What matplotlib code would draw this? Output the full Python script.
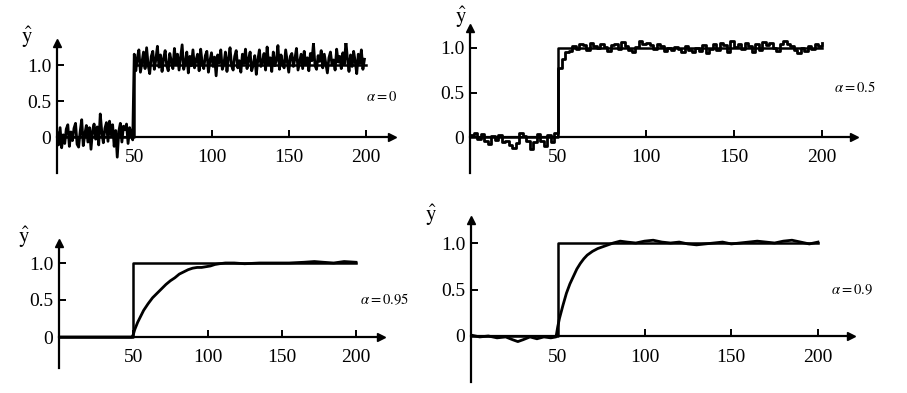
import numpy as np
import matplotlib.pyplot as plt

plt.rcParams['font.family'] = ['Liberation Serif', 'DejaVu Serif']
plt.rcParams['mathtext.fontset'] = 'stix'

# step input (true signal)
step_t = [0, 50, 50, 200]
step_y = [0, 0, 1, 1]

# alpha = 0 : raw noisy measurements, one per sample
raw_pre = [0.06, -0.11, 0.13, -0.15, 0.03, -0.09, 0.11, 0.17, -0.13, 0.07,
           -0.05, 0.12, 0.19, -0.10, -0.14, 0.08, 0.24, -0.12, 0.04, 0.16,
           -0.07, 0.13, -0.17, 0.09, 0.18, -0.03, 0.14, -0.11, 0.32, 0.07,
           -0.08, 0.12, 0.20, -0.06, 0.22, 0.03, 0.17, -0.13, 0.09, -0.28,
           0.08, 0.19, -0.07, 0.15, 0.10, 0.18, -0.09, 0.13, 0.05, -0.04]
raw_post = [1.15, 0.92, 1.10, 1.21, 0.90, 1.04, 1.18, 0.95, 1.24, 1.00,
            0.88, 1.12, 1.19, 0.94, 1.08, 1.26, 0.97, 1.14, 0.91, 1.09,
            1.20, 0.99, 0.92, 1.16, 1.05, 0.95, 1.23, 1.01, 1.15, 0.93,
            1.10, 1.28, 0.94, 1.03, 1.18, 0.89, 1.12, 0.99, 1.21, 0.96,
            1.07, 1.15, 0.92, 1.22, 1.02, 0.95, 1.13, 1.19, 0.90, 1.06,
            1.17, 0.98, 1.11, 0.85, 1.14, 1.03, 1.21, 0.94, 1.01, 1.18,
            0.91, 1.09, 1.24, 0.99, 0.93, 1.12, 1.20, 0.96, 1.06, 0.90,
            1.15, 1.02, 1.22, 0.95, 1.08, 1.18, 0.92, 1.00, 1.13, 0.87,
            1.07, 1.21, 0.98, 1.04, 1.16, 0.93, 1.25, 1.01, 1.10, 0.91,
            1.18, 0.99, 1.07, 1.27, 0.94, 1.14, 1.02, 0.96, 1.21, 1.05,
            0.90, 1.12, 1.16, 0.98, 1.09, 1.23, 0.93, 1.04, 1.15, 0.95,
            1.19, 1.01, 1.10, 0.92, 1.16, 1.06, 1.30, 0.99, 0.94, 1.13,
            1.05, 1.20, 0.96, 1.15, 1.02, 0.89, 1.10, 1.18, 1.00, 1.07,
            0.93, 1.22, 1.04, 1.12, 0.95, 1.17, 1.01, 1.33, 1.08, 0.91,
            1.14, 0.98, 1.19, 1.05, 0.88, 1.15, 1.02, 1.21, 0.94, 1.08]

# alpha = 0.5 : estimate every 2 samples
a05_pre = [0.02, 0.04, -0.02, 0.03, -0.05, -0.08, 0.01, -0.03, 0.02, -0.06,
           -0.04, -0.09, -0.12, -0.07, 0.04, 0.01, -0.05, -0.14, -0.06, 0.03,
           -0.04, -0.10, 0.02, -0.06, 0.05]
a05_post = [0.77, 0.88, 0.95, 0.97, 1.02, 0.99, 1.04, 1.03, 0.98, 1.06,
            1.02, 1.00, 1.04, 1.01, 0.97, 1.03, 1.05, 0.99, 1.07, 1.02,
            0.98, 0.95, 1.01, 1.08, 1.05, 1.06, 1.03, 0.99, 1.04, 1.02,
            0.97, 1.00, 0.98, 1.01, 0.99, 0.96, 1.02, 0.98, 0.95, 1.00,
            0.97, 1.03, 0.94, 0.99, 1.04, 0.98, 1.06, 1.03, 0.96, 1.08,
            1.01, 1.05, 0.99, 1.06, 1.02, 0.96, 1.04, 0.98, 1.07, 1.03,
            1.06, 1.00, 0.97, 1.04, 1.08, 1.05, 1.02, 0.98, 0.94, 1.00,
            0.97, 1.02, 0.99, 1.04, 1.02, 1.06]

# alpha = 0.95
a95_t = [0, 49, 50, 51, 53, 55, 57, 60, 63, 66, 69, 72, 75, 78, 81, 84, 87, 90,
         93, 96, 99, 102, 105, 108, 112, 118, 125, 135, 145, 155, 165, 172,
         178, 185, 192, 200]
a95_y = [0, 0, 0.03, 0.10, 0.20, 0.28, 0.36, 0.45, 0.53, 0.59, 0.65, 0.71,
         0.76, 0.80, 0.85, 0.88, 0.91, 0.93, 0.94, 0.94, 0.95, 0.96, 0.98,
         0.99, 1.00, 1.00, 0.99, 1.00, 1.00, 1.00, 1.01, 1.02, 1.01, 1.00,
         1.02, 1.01]

# alpha = 0.9
a90_t = [0, 5, 10, 15, 20, 24, 27, 30, 34, 38, 42, 46, 49, 50, 51, 53, 55, 57,
         59, 61, 63, 65, 67, 70, 73, 76, 79, 82, 86, 90, 95, 100, 105, 110,
         115, 120, 125, 130, 135, 140, 145, 150, 155, 160, 165, 170, 175, 180,
         185, 190, 195, 200]
a90_y = [0.01, -0.01, 0.00, -0.02, -0.01, -0.04, -0.06, -0.04, -0.01, -0.03,
         -0.01, -0.02, -0.01, 0.10, 0.19, 0.33, 0.46, 0.56, 0.64, 0.72,
         0.78, 0.83, 0.87, 0.91, 0.94, 0.96, 0.98, 1.00, 1.02, 1.01,
         1.00, 1.02, 1.03, 1.01, 1.00, 1.01, 0.99, 0.98, 0.99, 1.00,
         1.01, 0.99, 1.00, 1.01, 1.02, 1.01, 1.00, 1.02, 1.03, 1.01,
         0.99, 1.01]

W, H = 907, 393
fig = plt.figure(figsize=(W / 100, H / 100), dpi=100)


def make_axes(x0, x200, y0, y1, xmax, ylim):
    # place axes so that data (0,0) and (200,1) land on given pixels
    sx = (x200 - x0) / 200.0
    sy = y0 - y1
    left, right = x0, x0 + xmax * sx
    top, bottom = y0 - ylim[1] * sy, y0 - ylim[0] * sy
    ax = fig.add_axes([left / W, 1 - bottom / H, (right - left) / W, (bottom - top) / H])
    ax.set_xlim(0, xmax)
    ax.set_ylim(ylim)
    return ax


def style(ax):
    ax.spines['top'].set_visible(False)
    ax.spines['right'].set_visible(False)
    ax.spines['left'].set_position(('data', 0))
    ax.spines['bottom'].set_position(('data', 0))
    for s in ['left', 'bottom']:
        ax.spines[s].set_linewidth(1.6)
    ax.set_xticks([50, 100, 150, 200])
    ax.set_yticks([0, 0.5, 1.0])
    ax.set_yticklabels(['0', '0.5', '1.0'])
    ax.tick_params(direction='in', length=5, width=1.4, labelsize=14)
    ax.tick_params(axis='x', pad=9)
    ax.tick_params(axis='y', pad=4)
    ax.plot(1, 0, '>k', ms=6, transform=ax.get_yaxis_transform(), clip_on=False)
    ax.plot(0, 1, '^k', ms=6, transform=ax.get_xaxis_transform(), clip_on=False)


def yhat(x, y):
    fig.text(x / W, 1 - y / H, r'$\hat{\mathrm{y}}$', fontsize=15, ha='center', va='bottom')


def alpha_label(x, y, s):
    fig.text(x / W, 1 - y / H, r'$\alpha = ' + s + '$', fontsize=10.5, ha='left', va='center')


# top-left: alpha = 0
ax1 = make_axes(57, 366, 137, 65, 217, (-0.5, 1.3))
raw = raw_pre + raw_post
ax1.plot(step_t, step_y, color='k', lw=1.8)
ax1.plot(np.arange(len(raw)), raw, color='k', lw=2.0)
style(ax1)
yhat(27, 50)
alpha_label(366, 97, '0')

# top-right: alpha = 0.5
ax2 = make_axes(470, 822, 137, 48, 218, (-0.4, 1.22))
a05 = a05_pre + a05_post
ax2.plot(step_t, step_y, color='k', lw=1.8)
ax2.plot(np.arange(len(a05)) * 2, a05, color='k', lw=2.0, drawstyle='steps-post')
style(ax2)
yhat(461, 30)
alpha_label(834, 88, '0.5')

# bottom-left: alpha = 0.95
ax3 = make_axes(59, 356, 337, 263, 217, (-0.42, 1.27))
ax3.plot(step_t, step_y, color='k', lw=1.8)
ax3.plot(a95_t, a95_y, color='k', lw=2.0)
style(ax3)
yhat(24, 250)
alpha_label(360, 299, '0.95')

# bottom-right: alpha = 0.9
ax4 = make_axes(471, 818, 336, 243, 219, (-0.49, 1.25))
ax4.plot(step_t, step_y, color='k', lw=1.8)
ax4.plot(a90_t, a90_y, color='k', lw=2.0)
style(ax4)
yhat(431, 228)
alpha_label(831, 290, '0.9')

fig.savefig('out.png', dpi=100)
